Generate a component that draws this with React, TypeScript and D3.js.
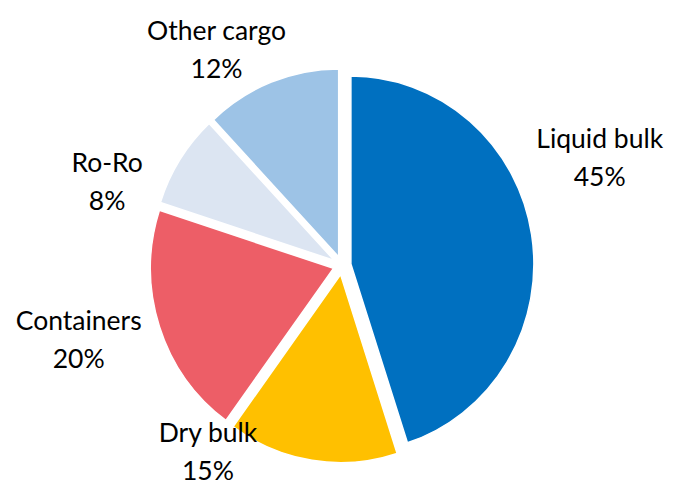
import * as d3 from 'd3'
import { useEffect } from 'react'

const categories = ['Liquid bulk', 'Dry bulk', 'Containers', 'Ro-Ro', 'Other cargo']
const shares = [45, 15, 20, 8, 12]
const percentLabels = ['45%', '15%', '20%', '8%', '12%']
const colors = ['#0070C0', '#FFC000', '#ED5E67', '#DCE5F2', '#9DC3E6']

// where each label sits, as angle (deg, clockwise from top) and distance from the centre
const labelPlacement = [
    { angle: 67, dist: 280 },
    { angle: 216, dist: 228 },
    { angle: 254.7, dist: 273 },
    { angle: 290, dist: 250 },
    { angle: 330, dist: 251 },
]

const width = 677
const height = 494
const cx = 342
const cy = 265.5
const radius = 183
const stretchY = 188 / 183 // the source image is slightly taller than wide
const explode = 9

function App() {
    useEffect(() => {
        document.body.style.margin = '0'
    }, [])

    const pie = d3
        .pie<number>()
        .sort(null)
        .value((d) => d)
        .startAngle(0)
        .endAngle(2 * Math.PI)
    const arcs = pie(shares)
    const arc = d3.arc<d3.PieArcDatum<number>>().innerRadius(0).outerRadius(radius)

    return (
        <svg width={width} height={height} style={{ display: 'block' }}>
            <rect width={width} height={height} fill="#fff" />
            <g transform={`translate(${cx}, ${cy}) scale(1, ${stretchY})`}>
                {arcs.map((a, i) => {
                    const mid = (a.startAngle + a.endAngle) / 2
                    const dx = Math.sin(mid) * explode
                    const dy = -Math.cos(mid) * explode
                    return (
                        <path
                            key={categories[i]}
                            d={arc(a) || ''}
                            transform={`translate(${dx}, ${dy})`}
                            fill={colors[i]}
                            stroke="#fff"
                            strokeWidth={1.5}
                        />
                    )
                })}
            </g>
            <g transform={`translate(${cx}, ${cy})`}>
                {categories.map((c, i) => {
                    const p = labelPlacement[i]
                    const t = (p.angle * Math.PI) / 180
                    const x = Math.sin(t) * p.dist
                    const y = -Math.cos(t) * p.dist
                    return (
                        <text
                            key={c}
                            x={x}
                            y={y}
                            textAnchor="middle"
                            fontFamily="Lato, sans-serif"
                            fontSize="26.5"
                            fill="#000"
                        >
                            <tspan x={x} dy="-8">
                                {c}
                            </tspan>
                            <tspan x={x} dy="38">
                                {percentLabels[i]}
                            </tspan>
                        </text>
                    )
                })}
            </g>
        </svg>
    )
}

export default App
